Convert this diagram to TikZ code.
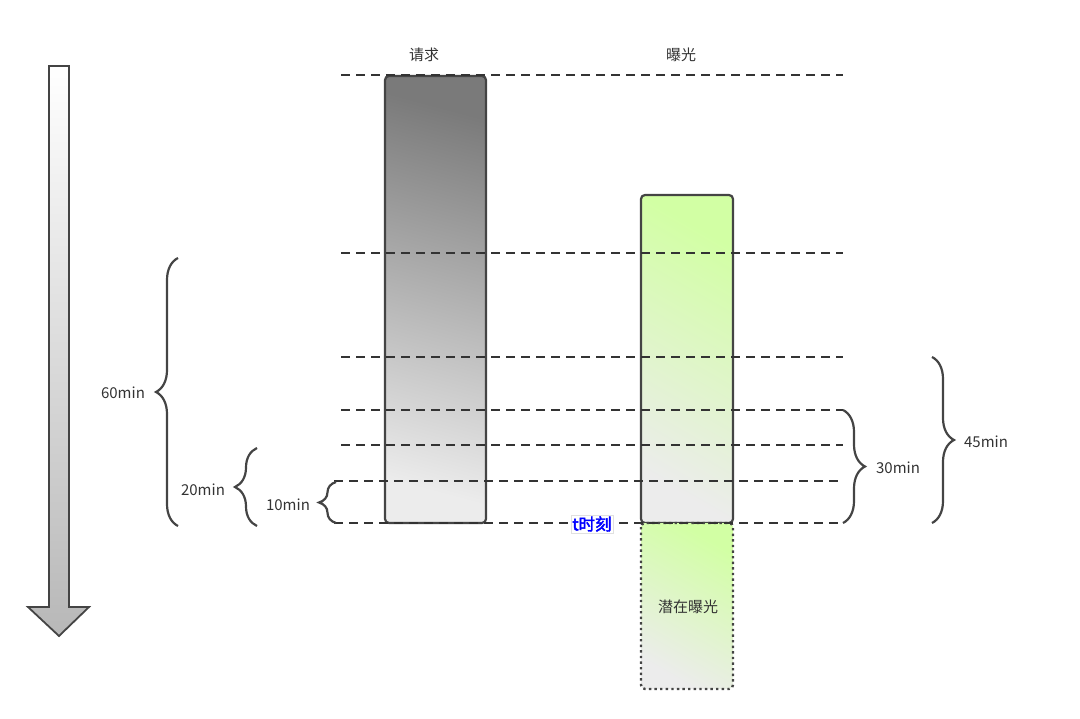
\documentclass[tikz,border=0pt]{standalone}
\usepackage{fontspec}
\setmainfont[AutoFakeBold=2.5]{Noto Sans CJK SC}
\usetikzlibrary{positioning,decorations.pathreplacing}

\definecolor{ink}{HTML}{333333}
\definecolor{edge}{HTML}{444444}
\definecolor{lime}{HTML}{D2FFA4}
\definecolor{pale}{HTML}{ECECEC}

\tikzset{
  level/.style={draw=ink, line width=2.2pt, dash pattern=on 9pt off 6pt},
  bar/.style={draw=edge, line width=2.2pt, rounded corners=4pt},
  span/.style={draw=edge, line width=2.2pt, decorate, decoration={brace, amplitude=#1}},
  lbl/.style={text=ink, font=\fontsize{15}{17}\selectfont, inner sep=1pt}
}

\begin{document}
\begin{tikzpicture}[x=1pt, y=-1pt]
  \useasboundingbox (0,0) rectangle (1080,719);

  % time axis
  \draw[draw=edge, line width=1.8pt, top color=white, bottom color=black!28]
    (49,66) -- (69,66) -- (69,607) -- (89,607) -- (59,636) -- (28,607) -- (49,607) -- cycle;

  % bars
  \path[bar, top color=black!52, bottom color=pale, shading angle=-15] (385,76) rectangle (486,523);
  \path[bar, top color=lime, bottom color=pale, shading angle=-30] (641,195) rectangle (733,523);
  \path[bar, line width=2.4pt, dash pattern=on 2.4pt off 3.2pt, top color=lime, bottom color=pale, shading angle=-30] (641,523) rectangle (733,689);

  \node[lbl] (req) at (424,55) {请求};
  \node[lbl] (exp) at (681,55) {曝光};
  \node[lbl] (latent) at (688,607) {潜在曝光};

  % time levels
  \foreach \y/\x in {75/341, 253/341, 357/341, 410/341, 445/341, 481/334, 523/334}
    \draw[level] (\x,\y) -- (843,\y);

  \node[text=blue, font=\fontsize{16.5}{18}\selectfont\bfseries, fill=white, draw=black!12, inner sep=1.5pt] (tnow) at (592,524) {t时刻};

  % spans
  \draw[span=22pt] (178,526) -- (178,258);
  \draw[span=22pt] (257,526) -- (257,448);
  \draw[span=17pt] (336,523) -- (336,482);
  \draw[span=22pt] (843,410) -- (843,523);
  \draw[span=22pt] (932,357) -- (932,523);

  \node[lbl] (m60) at (123,393) {60min};
  \node[lbl] (m20) at (203,490) {20min};
  \node[lbl] (m10) at (288,505) {10min};
  \node[lbl] (m30) at (898,468) {30min};
  \node[lbl] (m45) at (986,442) {45min};
\end{tikzpicture}
\end{document}
